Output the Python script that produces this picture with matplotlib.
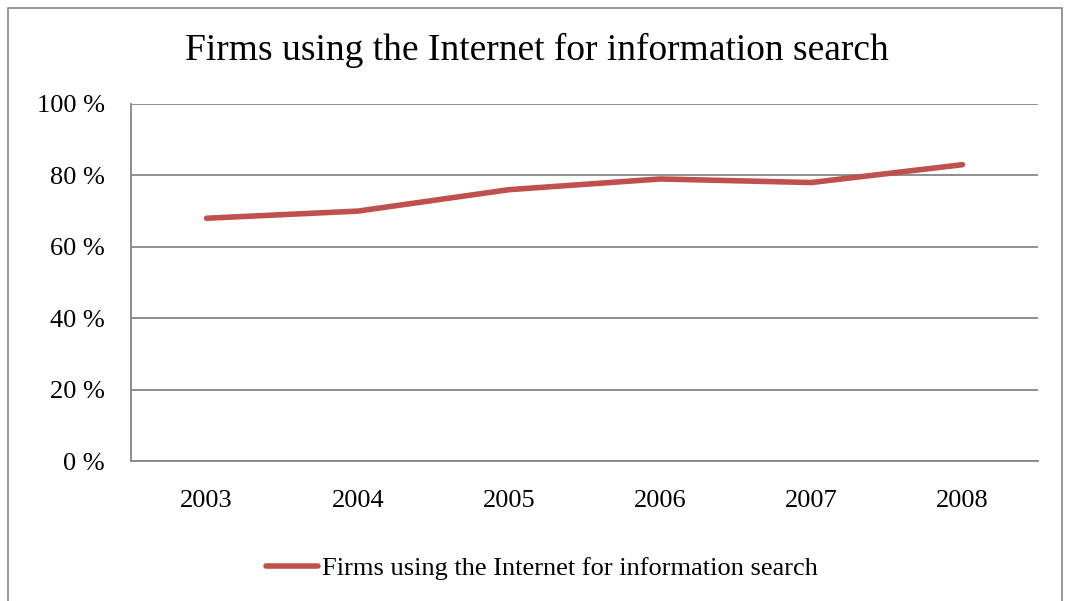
import matplotlib.pyplot as plt
from matplotlib.patches import Rectangle

years = ['2003', '2004', '2005', '2006', '2007', '2008']
share = [68, 70, 76, 79, 78, 83]
series_name = 'Firms using the Internet for information search'

plt.rcParams['font.family'] = ['Liberation Serif', 'DejaVu Serif']

fig = plt.figure(figsize=(10.67, 6.01), dpi=100)
W, H = 1067, 601

# outer chart border
fig.patches.append(Rectangle((8 / W, -0.1), (1062 - 8) / W, 1.1 - 8 / H,
                             transform=fig.transFigure, fill=False,
                             edgecolor='#868686', linewidth=1.2))

ax = fig.add_axes([131 / W, 1 - 461 / H, (1038 - 131) / W, (461 - 104) / H])
ax.plot(range(len(years)), share, color='#C0504D', linewidth=4,
        solid_capstyle='round', label=series_name)

ax.set_xlim(-0.5, len(years) - 0.5)
ax.set_ylim(0, 100)
ax.set_yticks(range(0, 101, 20))
ax.set_yticklabels([f'{v} %' for v in range(0, 101, 20)])
ax.set_xticks(range(len(years)))
ax.set_xticklabels(years)
ax.grid(axis='y', color='#868686', linewidth=1.3)
ax.set_axisbelow(True)
for s in ['top', 'right']:
    ax.spines[s].set_visible(False)
for s in ['left', 'bottom']:
    ax.spines[s].set_color('#868686')
    ax.spines[s].set_linewidth(1.3)
ax.tick_params(axis='both', length=0, labelsize=19)
ax.tick_params(axis='y', pad=19)
ax.tick_params(axis='x', pad=21)

fig.text(537 / W, 1 - 50 / H, series_name, ha='center', va='center', fontsize=27)

fig.legend(loc='center', bbox_to_anchor=(542 / W, 1 - 568 / H), frameon=False,
           fontsize=19, handlelength=2.0, handletextpad=0.15)

fig.savefig('out.png', dpi=100)
